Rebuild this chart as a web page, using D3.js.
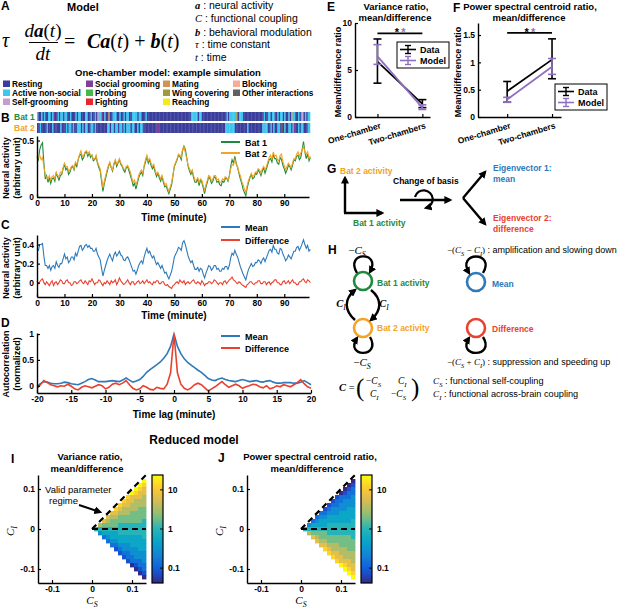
<!DOCTYPE html>
<html><head><meta charset="utf-8">
<script src="https://cdn.jsdelivr.net/npm/d3@7/dist/d3.min.js"></script>
<style>html,body{margin:0;padding:0;background:#fff}svg{display:block}</style>
</head><body>
<svg id="fig" width="617" height="609" xmlns="http://www.w3.org/2000/svg"></svg>
<script>
// ================= DATA =================
const behaviorNames = ["Resting","Active non-social","Self-grooming","Social grooming","Probing","Fighting","Mating","Wing covering","Reaching","Blocking","Other interactions"];
const behaviorCodes = ["R","A","S","G","P","F","M","W","Y","B","O"];
const behaviorColors = ["#3b3e9c","#3fc6ef","#c49cd6","#7d3f99","#48b74a","#e9272b","#cf9358","#9d9b3c","#f2ea1b","#f8ab98","#606060"];
// one character per half minute
const bat1Behavior =
 "ARRARARRAARAGRRARAAR"+"AARRARRRARAARRRAARRA"+"RRARSAAGRARRMRRAAARR"+"ARRARAARRAAAARAARRRA"+"RRRRRRRRRRRRRRRRRRRR"+
 "RRRRRRRRRRRRAAAAARAA"+"RRRRRRRRRRRRRRRRRRAR"+"AAAAAWRAAARRRRRRRRRR"+"RRRRRARRAARAAGRARAAR"+"ARRARAMARRARASRARAAB";
const bat2Behavior =
 "RRARRRRARRRARGRRRARR"+"RARAARARRAAARARAARRA"+"ARARRRRRRRRAARAARAAR"+"AARARAAARAARRARAAGRR"+"RRRRRRRGGRRRRRRRRRRR"+
 "RRRRRRRRRRRRRRRRRRRR"+"RRRRRRRRRRRRRRRRRAAA"+"AAAARRRRRRRRRARRRRRR"+"RRRRAAAARRARARRAAROR"+"ARRAARAGRRARAARRRAAR";

// simulated activity, sampled every half minute
const timeMinutes = d3.range(0, 100, 0.5);
const bat1Activity = [
 0.36,0.33,0.42,0.46,0.48,0.3,0.16,0.19,0.13,0.17,0.12,0.16,0.17,0.14,0.21,0.18,0.15,0.19,0.2,0.25,
 0.29,0.24,0.26,0.2,0.22,0.26,0.27,0.24,0.3,0.27,0.33,0.37,0.38,0.33,0.35,0.39,0.4,0.36,0.39,0.35,
 0.37,0.32,0.33,0.36,0.3,0.26,0.23,0.14,0.05,0.12,0.17,0.22,0.27,0.3,0.26,0.23,0.29,0.32,0.27,0.3,
 0.33,0.29,0.27,0.24,0.22,0.26,0.27,0.23,0.19,0.15,0.1,0.12,0.07,0.12,0.17,0.2,0.22,0.19,0.27,0.31,
 0.36,0.3,0.33,0.28,0.25,0.27,0.22,0.18,0.21,0.17,0.14,0.18,0.13,0.09,0.1,0.06,0.03,0.07,0.11,0.19,
 0.27,0.3,0.33,0.37,0.36,0.33,0.41,0.45,0.42,0.35,0.27,0.23,0.2,0.23,0.17,0.13,0.13,0.16,0.1,0.15,
 0.13,0.08,0.03,0.09,0.13,0.18,0.16,0.12,0.14,0.18,0.17,0.13,0.14,0.11,0.1,0.14,0.13,0.16,0.17,0.14,
 0.19,0.27,0.33,0.3,0.36,0.3,0.26,0.21,0.16,0.12,0.07,0.04,0.01,0.08,0.13,0.17,0.2,0.16,0.17,0.21,
 0.2,0.24,0.22,0.19,0.23,0.26,0.21,0.25,0.29,0.33,0.34,0.31,0.38,0.34,0.34,0.3,0.29,0.35,0.33,0.28,
 0.25,0.21,0.24,0.28,0.27,0.24,0.28,0.33,0.32,0.36,0.37,0.33,0.35,0.42,0.49,0.4,0.34,0.38,0.32,0.35];
const bat2Activity = [
 0.34,0.36,0.37,0.33,0.35,0.27,0.2,0.17,0.16,0.19,0.15,0.18,0.19,0.16,0.22,0.19,0.18,0.22,0.21,0.26,
 0.3,0.27,0.27,0.23,0.24,0.27,0.28,0.25,0.31,0.29,0.33,0.38,0.41,0.36,0.37,0.4,0.41,0.38,0.4,0.37,
 0.36,0.34,0.34,0.37,0.31,0.28,0.25,0.17,0.08,0.14,0.19,0.24,0.28,0.31,0.26,0.24,0.3,0.33,0.29,0.31,
 0.34,0.3,0.28,0.25,0.24,0.27,0.28,0.25,0.22,0.17,0.13,0.15,0.11,0.14,0.19,0.22,0.24,0.21,0.28,0.33,
 0.37,0.32,0.34,0.3,0.27,0.29,0.24,0.2,0.22,0.19,0.16,0.19,0.15,0.11,0.12,0.08,0.05,0.09,0.13,0.2,
 0.28,0.31,0.34,0.38,0.37,0.35,0.43,0.44,0.39,0.34,0.28,0.25,0.22,0.24,0.19,0.15,0.15,0.17,0.13,0.16,
 0.15,0.1,0.06,0.11,0.15,0.19,0.18,0.14,0.16,0.19,0.19,0.15,0.16,0.13,0.13,0.16,0.15,0.18,0.17,0.15,
 0.18,0.25,0.29,0.28,0.33,0.29,0.27,0.22,0.19,0.14,0.11,0.07,0.04,0.1,0.15,0.18,0.21,0.18,0.19,0.22,
 0.22,0.25,0.24,0.21,0.25,0.27,0.24,0.27,0.31,0.35,0.37,0.33,0.4,0.36,0.37,0.33,0.32,0.37,0.38,0.31,
 0.28,0.24,0.27,0.3,0.28,0.26,0.3,0.34,0.34,0.38,0.4,0.36,0.39,0.41,0.45,0.4,0.38,0.4,0.34,0.36];
const meanActivity = [
 0.35,0.34,0.4,0.4,0.41,0.28,0.18,0.18,0.15,0.18,0.13,0.17,0.18,0.15,0.22,0.18,0.16,0.2,0.2,0.25,
 0.3,0.25,0.27,0.21,0.23,0.27,0.27,0.24,0.31,0.28,0.33,0.38,0.39,0.34,0.36,0.39,0.4,0.37,0.39,0.36,
 0.36,0.33,0.33,0.36,0.3,0.27,0.24,0.15,0.07,0.13,0.18,0.23,0.27,0.3,0.26,0.23,0.29,0.32,0.28,0.3,
 0.33,0.29,0.28,0.24,0.23,0.26,0.27,0.24,0.2,0.16,0.12,0.13,0.09,0.13,0.18,0.21,0.23,0.2,0.27,0.32,
 0.36,0.31,0.33,0.29,0.26,0.28,0.23,0.19,0.21,0.18,0.15,0.18,0.14,0.1,0.11,0.07,0.04,0.08,0.12,0.19,
 0.27,0.3,0.33,0.37,0.36,0.34,0.42,0.44,0.4,0.34,0.28,0.24,0.21,0.23,0.18,0.14,0.14,0.16,0.12,0.15,
 0.14,0.09,0.05,0.1,0.14,0.18,0.17,0.13,0.15,0.18,0.18,0.14,0.15,0.12,0.12,0.15,0.14,0.17,0.17,0.14,
 0.18,0.26,0.31,0.29,0.34,0.3,0.27,0.22,0.17,0.13,0.09,0.06,0.03,0.09,0.14,0.17,0.2,0.17,0.18,0.21,
 0.21,0.24,0.23,0.2,0.24,0.26,0.22,0.26,0.3,0.34,0.35,0.32,0.39,0.35,0.35,0.31,0.3,0.36,0.35,0.3,
 0.27,0.23,0.25,0.29,0.27,0.25,0.29,0.33,0.33,0.37,0.38,0.34,0.37,0.41,0.45,0.4,0.36,0.39,0.33,0.35];
const diffActivity = [
 0.02,-0.01,0.01,0.03,0.04,0.0,-0.02,0.01,-0.01,-0.03,0.0,0.02,-0.03,0.0,0.01,-0.02,0.0,0.03,0.02,-0.01,
 -0.01,0.02,0.03,0.0,0.0,-0.03,-0.02,0.01,0.01,-0.01,0.0,0.02,0.03,0.0,-0.01,0.02,0.0,-0.02,0.02,0.01,
 0.04,0.01,-0.02,0.0,0.0,0.03,0.02,-0.01,-0.03,0.0,-0.01,0.02,0.0,-0.02,0.02,0.0,0.01,0.03,-0.02,0.01,
 0.05,0.02,0.0,-0.02,-0.01,0.01,0.03,0.0,-0.02,0.01,0.01,-0.02,-0.01,0.01,0.02,-0.01,0.0,0.02,-0.01,0.01,
 0.03,0.0,0.01,-0.01,-0.02,0.01,0.0,0.02,0.02,-0.01,-0.01,0.01,0.01,-0.02,-0.03,-0.02,-0.04,-0.05,-0.06,-0.03,
 -0.02,0.0,0.01,-0.01,0.03,0.01,0.0,0.02,-0.02,0.0,0.01,-0.01,0.0,0.02,0.03,0.0,-0.01,0.01,0.0,-0.02,
 0.02,0.0,-0.03,-0.01,-0.01,0.01,0.01,-0.01,0.0,0.03,0.02,0.0,-0.02,0.0,0.0,-0.02,0.01,0.02,-0.01,0.01,
 0.03,0.04,0.06,0.03,0.02,0.0,-0.01,0.01,0.0,-0.02,-0.03,-0.04,-0.05,-0.02,-0.01,0.01,0.01,-0.01,-0.02,0.0,
 0.0,0.02,0.02,-0.01,-0.01,0.01,0.01,-0.02,0.0,0.01,-0.02,0.0,0.01,0.03,0.03,0.0,0.0,-0.02,-0.02,0.01,
 0.02,-0.01,0.0,0.02,-0.01,0.01,0.03,0.0,0.0,-0.02,-0.02,0.01,0.01,0.03,0.04,0.01,0.0,0.03,0.02,0.0];

const lagMinutes = d3.range(-20, 20.001, 0.5);
const acfMean = [
 -0.01,0.04,0.08,0.07,0.05,0.04,0.04,0.05,0.07,0.06,0.04,0.03,0.02,0.05,0.08,0.12,0.14,0.11,0.08,0.08,
 0.08,0.09,0.1,0.09,0.08,0.11,0.15,0.11,0.07,0.09,0.12,0.18,0.26,0.31,0.36,0.41,0.46,0.53,0.62,0.76,
 1.0,
 0.76,0.62,0.52,0.45,0.4,0.35,0.3,0.26,0.2,0.14,0.11,0.1,0.13,0.15,0.12,0.1,0.09,0.08,0.1,0.12,
 0.1,0.08,0.09,0.1,0.08,0.07,0.09,0.1,0.07,0.05,0.05,0.06,0.06,0.06,0.05,0.05,0.07,0.1,0.06,0.02];
const acfDiff = [
 -0.05,0.02,0.1,0.06,0.02,0.0,-0.02,0.0,-0.01,0.03,-0.01,-0.06,-0.08,-0.03,0.0,-0.02,-0.04,-0.01,0.02,0.0,
 -0.06,-0.03,0.03,0.05,0.02,0.05,0.1,0.02,-0.05,-0.08,-0.06,0.0,-0.03,-0.07,-0.08,-0.03,-0.05,-0.06,0.03,0.25,
 1.0,
 0.25,0.03,-0.05,-0.08,-0.04,0.02,0.05,0.02,-0.04,-0.1,-0.06,-0.02,0.03,0.08,0.02,-0.03,0.0,0.03,0.0,-0.05,
 -0.02,0.0,0.03,0.02,-0.02,-0.04,0.0,-0.06,-0.04,0.0,-0.02,0.02,0.0,-0.02,0.02,0.06,0.12,0.04,-0.02,-0.05];

const chamberCategories = ["One-chamber","Two-chambers"];
const varDataMean = [5.9, 1.4], varDataLow = [3.6, 1.0], varDataHigh = [8.3, 1.85];
const varModelMean = [6.45, 1.0], varModelLow = [5.6, 0.8], varModelHigh = [7.7, 1.3];
const pscDataMean = [0.47, 1.05], pscDataLow = [0.27, 0.70], pscDataHigh = [0.65, 1.43];
const pscModelMean = [0.32, 0.92], pscModelLow = [0.27, 0.78], pscModelHigh = [0.36, 1.07];

// reduced model grids: columns = C_S, rows = C_I ; char = colour level 0..10 ('A'=10), '.' = invalid
const csValues = [0.01,0.02,0.03,0.04,0.05,0.06,0.07,0.08,0.09,0.10,0.11,0.12,0.13];
const ciValues = [0.12,0.11,0.10,0.09,0.08,0.07,0.06,0.05,0.04,0.03,0.02,0.01,0,-0.01,-0.02,-0.03,-0.04,-0.05,-0.06,-0.07,-0.08,-0.09,-0.10,-0.11,-0.12];
const varianceRatioLevels = [
 "............A","...........A9","..........A98",".........A988","........98887",".......988777",
 "......9887777",".....98777766","....887776666","...8776666666","..87666666665",".766665555555",
 "5555555555555",
 ".344445555555","..23444444445","...2334444444","....223334444",".....12333344","......1223333",
 ".......122333","........12223",".........0122","..........012","...........01","............0"];
const centroidRatioLevels = [
 "............0","...........01","..........012",".........0122","........12223",".......122333",
 "......1223333",".....12333344","....223334444","...2334444444","..23444444445",".344445555555",
 "5555555555555",
 ".766665555555","..87666666665","...8776666666","....887776666",".....98777766","......9887777",
 ".......988777","........98887",".........A988","..........A98","...........A9","............A"];
const colorbarTicks = [0.1, 1, 10];
const colorbarLogRange = [-1.38, 1.38];

// ================= DRAWING =================
const SANS = "'Liberation Sans', Arial, sans-serif";
const SERIF = "'Liberation Serif', 'Times New Roman', serif";
const GREEN = "#1f8a3d", ORANGE = "#f3a326", BLUE = "#2e79ba", RED = "#e8412f", PURPLE = "#8f70c0";
const svg = d3.select("#fig");
svg.append("rect").attr("width", 617).attr("height", 609).attr("fill", "#fff");
const defs = svg.append("defs");
defs.append("marker").attr("id", "ah").attr("viewBox", "0 0 10 10").attr("refX", 7).attr("refY", 5)
  .attr("markerWidth", 8).attr("markerHeight", 8).attr("markerUnits", "userSpaceOnUse").attr("orient", "auto")
  .append("path").attr("d", "M0,0 L10,5 L0,10 z").attr("fill", "#000");

function T(x, y, s, o = {}) {
  const t = svg.append("text").attr("x", x).attr("y", y).text(s)
    .attr("font-family", o.ff || SANS).attr("font-size", o.fs || 9)
    .attr("font-weight", o.fw || "bold").attr("fill", o.c || "#000")
    .attr("text-anchor", o.a || "start");
  if (o.rot) t.attr("transform", `rotate(${o.rot},${x},${y})`);
  if (o.it) t.attr("font-style", "italic");
  return t;
}
// math text: parts [string, flags] flags: I italic, B bold, _ subscript, N sans
function M(x, y, parts, fs, o = {}) {
  const t = svg.append("text").attr("x", x).attr("y", y).attr("font-size", fs)
    .attr("text-anchor", o.a || "start").attr("fill", o.c || "#000");
  let shift = 0;
  parts.forEach(([s, f]) => {
    const sp = t.append("tspan").text(s);
    const target = f.includes("_") ? fs * 0.28 : 0;
    if (target - shift !== 0) sp.attr("dy", target - shift);
    shift = target;
    sp.attr("font-family", f.includes("N") ? SANS : SERIF);
    sp.attr("font-style", f.includes("I") ? "italic" : "normal");
    sp.attr("font-weight", f.includes("B") ? "bold" : "normal");
    if (f.includes("_")) sp.attr("font-size", fs * 0.72);
  });
  return t;
}
function axis(kind, scale, pos, ticks, fmt) {
  const ax = (kind === "left" ? d3.axisLeft(scale) : d3.axisBottom(scale))
    .tickValues(ticks).tickSizeInner(-3).tickSizeOuter(0).tickPadding(3)
    .tickFormat(fmt || (d => String(d)));
  const g = svg.append("g").attr("transform", kind === "left" ? `translate(${pos},0)` : `translate(0,${pos})`).call(ax);
  g.select(".domain").attr("stroke", "#000").attr("stroke-width", 1.4);
  g.selectAll(".tick line").attr("stroke", "#000").attr("stroke-width", 1.2);
  g.selectAll(".tick text").attr("font-family", SANS).attr("font-size", 8.5).attr("font-weight", "bold").attr("fill", "#000");
  return g;
}
function letter(x, y, s) { T(x, y, s, { fs: 12, fw: "bold" }); }

// ---------- Panel A ----------
letter(1, 10, "A");
T(67, 11, "Model", { fs: 11 });
M(2, 47, [["τ", "I"]], 20);
M(43, 37, [["d", "I"], ["a", "IB"], ["(", ""], ["t", "I"], [")", ""]], 19, { a: "middle" });
svg.append("line").attr("x1", 29).attr("x2", 58).attr("y1", 42.5).attr("y2", 42.5).attr("stroke", "#000").attr("stroke-width", 1);
M(43, 60, [["d", "I"], ["t", "I"]], 19, { a: "middle" });
M(64, 48, [["=", ""]], 20);
M(87, 48, [["C", "IB"], ["a", "IB"], ["(", ""], ["t", "I"], [")", ""], [" + ", ""], ["b", "IB"], ["(", ""], ["t", "I"], [")", ""]], 20);
const defsList = [[["a", "IB"], " : neural activity", 9], [["C", "I"], " : functional coupling", 22],
  [["b", "IB"], " : behavioral modulation", 36], [["τ", "I"], " : time constant", 48], [["t", "I"], " : time", 61]];
defsList.forEach(([sym, s, y]) => M(195, y, [sym, [s, "N"]], 10.5));

T(168, 76, "One-chamber model: example simulation", { fs: 9.5, a: "middle" });
const legCols = [3, 86, 163, 233];
const legRows = [84, 93, 102];
const legendLayout = [[0, 0, 0], [1, 0, 1], [2, 0, 2], [3, 1, 0], [4, 1, 1], [5, 1, 2], [6, 2, 0], [7, 2, 1], [8, 2, 2], [9, 3, 0], [10, 3, 1]];
legendLayout.forEach(([k, c, r]) => {
  svg.append("rect").attr("x", legCols[c]).attr("y", legRows[r] - 3.5).attr("width", 7).attr("height", 6.5).attr("fill", behaviorColors[k]);
  T(legCols[c] + 9, legRows[r] + 3, behaviorNames[k], { fs: 8.3 });
});

// ---------- Panel B ----------
letter(1, 122, "B");
const xB = d3.scaleLinear([0, 99], [37, 309]);
const codeIndex = c => behaviorCodes.indexOf(c);
[[bat1Behavior, 112, 121], [bat2Behavior, 123, 133]].forEach(([str, y0, y1]) => {
  svg.append("g").selectAll("rect").data(str.split("")).join("rect")
    .attr("x", (d, i) => xB(i * 0.5)).attr("width", (d, i) => Math.min(xB((i + 1) * 0.5), 310) - xB(i * 0.5) + 0.3)
    .attr("y", y0).attr("height", y1 - y0).attr("fill", d => behaviorColors[codeIndex(d)]);
});
T(14, 120, "Bat 1", { fs: 8.5, c: GREEN });
T(14, 131, "Bat 2", { fs: 8.5, c: ORANGE });

const yB = d3.scaleLinear([0, 0.54], [197, 136]);
const lineB = ys => d3.line().x((d, i) => xB(timeMinutes[i])).y(d => ys(d));
svg.append("path").datum(bat1Activity).attr("d", lineB(yB)).attr("fill", "none").attr("stroke", GREEN).attr("stroke-width", 1.1);
svg.append("path").datum(bat2Activity).attr("d", lineB(yB)).attr("fill", "none").attr("stroke", ORANGE).attr("stroke-width", 1.1);
axis("left", yB, 37, [0, 0.5]);
axis("bottom", xB, 197, d3.range(0, 91, 10));
T(174, 221, "Time (minute)", { fs: 10, a: "middle" });
T(9, 168, "Neural activity", { fs: 9, a: "middle", rot: -90 });
T(20, 168, "(arbitrary unit)", { fs: 9, a: "middle", rot: -90 });
[[GREEN, "Bat 1", 142], [ORANGE, "Bat 2", 153]].forEach(([c, s, y]) => {
  svg.append("line").attr("x1", 221).attr("x2", 240).attr("y1", y).attr("y2", y).attr("stroke", c).attr("stroke-width", 2);
  T(245, y + 3.5, s, { fs: 9 });
});

// ---------- Panel C ----------
letter(1, 229, "C");
const yC = d3.scaleLinear([-0.15, 0.5], [297, 235]);
svg.append("path").datum(meanActivity).attr("d", lineB(yC)).attr("fill", "none").attr("stroke", BLUE).attr("stroke-width", 1.1);
svg.append("path").datum(diffActivity).attr("d", lineB(yC)).attr("fill", "none").attr("stroke", RED).attr("stroke-width", 1.1);
axis("left", yC, 37, [0, 0.2, 0.4]);
axis("bottom", xB, 297, d3.range(0, 91, 10));
T(174, 319, "Time (minute)", { fs: 10, a: "middle" });
T(9, 268, "Neural activity", { fs: 9, a: "middle", rot: -90 });
T(20, 268, "(arbitrary unit)", { fs: 9, a: "middle", rot: -90 });
[[BLUE, "Mean", 227], [RED, "Difference", 240]].forEach(([c, s, y]) => {
  svg.append("line").attr("x1", 221).attr("x2", 240).attr("y1", y).attr("y2", y).attr("stroke", c).attr("stroke-width", 2);
  T(245, y + 3.5, s, { fs: 9 });
});

// ---------- Panel D ----------
letter(1, 327, "D");
const xD = d3.scaleLinear([-20, 20], [37, 311]);
const yD = d3.scaleLinear([-0.14, 1.02], [393, 333]);
const lineD = d3.line().x((d, i) => xD(lagMinutes[i])).y(d => yD(d));
svg.append("path").datum(acfMean).attr("d", lineD).attr("fill", "none").attr("stroke", BLUE).attr("stroke-width", 1.6);
svg.append("path").datum(acfDiff).attr("d", lineD).attr("fill", "none").attr("stroke", RED).attr("stroke-width", 1.6);
axis("left", yD, 37, [0, 0.5, 1]);
axis("bottom", xD, 393, d3.range(-20, 21, 5));
T(174, 418, "Time lag (minute)", { fs: 10, a: "middle" });
T(9, 364, "Autocorrelation", { fs: 9, a: "middle", rot: -90 });
T(20, 364, "(normalized)", { fs: 9, a: "middle", rot: -90 });
[[BLUE, "Mean", 336], [RED, "Difference", 348]].forEach(([c, s, y]) => {
  svg.append("line").attr("x1", 221).attr("x2", 240).attr("y1", y).attr("y2", y).attr("stroke", c).attr("stroke-width", 2);
  T(245, y + 3.5, s, { fs: 9 });
});

// ---------- Panels E / F ----------
function ratioPanel(cfg) {
  const { xs, ys, ticks, dataM, dataL, dataH, modM, modL, modH, sigY, title1, title1x, titlex, legX, legY, ylabX, ylabY } = cfg;
  [[dataM, dataL, dataH, "#000"], [modM, modL, modH, PURPLE]].forEach(([m, lo, hi, c]) => {
    svg.append("path").datum(m).attr("d", d3.line().x((d, i) => xs(i + 1)).y(d => ys(d)))
      .attr("fill", "none").attr("stroke", c).attr("stroke-width", 1.8);
    m.forEach((v, i) => {
      const x = xs(i + 1);
      svg.append("line").attr("x1", x).attr("x2", x).attr("y1", ys(lo[i])).attr("y2", ys(hi[i])).attr("stroke", c).attr("stroke-width", 1.6);
      [lo[i], hi[i]].forEach(w => svg.append("line").attr("x1", x - 4).attr("x2", x + 4).attr("y1", ys(w)).attr("y2", ys(w)).attr("stroke", c).attr("stroke-width", 1.6));
    });
  });
  axis("left", ys, xs.range()[0], ticks);
  axis("bottom", xs, ys.range()[0], [1, 2], () => "");
  chamberCategories.forEach((s, i) => T(xs(i + 1) + 4, ys.range()[0] + 11, s, { fs: 8.5, a: "end", rot: -17 }));
  svg.append("line").attr("x1", xs(1)).attr("x2", xs(2)).attr("y1", ys(sigY)).attr("y2", ys(sigY)).attr("stroke", "#000").attr("stroke-width", 1.8);
  const mid = (xs(1) + xs(2)) / 2;
  T(mid - 3, ys(sigY) + 3, "*", { fs: 11, a: "middle" });
  T(mid + 3.5, ys(sigY) + 3, "*", { fs: 11, a: "middle", c: PURPLE });
  T(title1x, 10, title1, { fs: 9.5, a: "middle" });
  T(titlex, 21, "mean/difference", { fs: 9.5, a: "middle" });
  T(ylabX, ylabY, "Mean/difference ratio", { fs: 9, a: "middle", rot: -90 });
  svg.append("rect").attr("x", legX).attr("y", legY).attr("width", 52).attr("height", 26).attr("fill", "#fff").attr("stroke", "#000").attr("stroke-width", 1);
  [["#000", "Data", legY + 7.5], [PURPLE, "Model", legY + 18.5]].forEach(([c, s, y]) => {
    svg.append("line").attr("x1", legX + 3).attr("x2", legX + 19).attr("y1", y).attr("y2", y).attr("stroke", c).attr("stroke-width", 1.6);
    svg.append("line").attr("x1", legX + 11).attr("x2", legX + 11).attr("y1", y - 4).attr("y2", y + 4).attr("stroke", c).attr("stroke-width", 1.4);
    [y - 4, y + 4].forEach(w => svg.append("line").attr("x1", legX + 8).attr("x2", legX + 14).attr("y1", w).attr("y2", w).attr("stroke", c).attr("stroke-width", 1.4));
    T(legX + 23, y + 3.5, s, { fs: 9 });
  });
}
letter(327, 11, "E");
ratioPanel({ xs: d3.scaleLinear([0.5, 2.17], [355, 430]), ys: d3.scaleLinear([0, 10], [117, 23]), ticks: [0, 5, 10],
  dataM: varDataMean, dataL: varDataLow, dataH: varDataHigh, modM: varModelMean, modL: varModelLow, modH: varModelHigh,
  sigY: 8.9, title1: "Variance ratio,", title1x: 396, titlex: 395, legX: 397, legY: 42, ylabX: 341, ylabY: 72 });
letter(453, 12, "F");
ratioPanel({ xs: d3.scaleLinear([0.35, 2.2], [478, 561]), ys: d3.scaleLinear([0, 1.72], [117, 23]), ticks: [0, 0.5, 1, 1.5],
  dataM: pscDataMean, dataL: pscDataLow, dataH: pscDataHigh, modM: pscModelMean, modL: pscModelLow, modH: pscModelHigh,
  sigY: 1.54, title1: "Power spectral centroid ratio,", title1x: 530, titlex: 529, legX: 555, legY: 84, ylabX: 461, ylabY: 72 });

// ---------- Panel G ----------
letter(327, 173, "G");
T(340, 174, "Bat 2 activity", { fs: 8.5, c: ORANGE });
T(353, 226, "Bat 1 activity", { fs: 8.5, c: GREEN });
const arrow = (d, w = 2.4) => svg.append("path").attr("d", d).attr("fill", "none").attr("stroke", "#000").attr("stroke-width", w).attr("marker-end", "url(#ah)");
arrow("M345,213 L345,178");
arrow("M344,213 L382,213");
T(393, 184, "Change of basis", { fs: 8.5 });
arrow("M400,200 L450,200");
arrow("M415,197 A9,9 0 1 1 426,208", 2.2);
arrow("M463,198 L485,172");
arrow("M463,198 L485,224");
T(493, 171, "Eigenvector 1:", { fs: 8.5, c: BLUE });
T(493, 182, "mean", { fs: 8.5, c: BLUE });
T(493, 221, "Eigenvector 2:", { fs: 8.5, c: RED });
T(493, 232, "difference", { fs: 8.5, c: RED });

// ---------- Panel H ----------
letter(328, 254, "H");
M(357, 254, [["−", ""], ["C", "I"], ["S", "I_"]], 11, { a: "middle" });
M(362, 366, [["−", ""], ["C", "I"], ["S", "I_"]], 11, { a: "middle" });
M(341, 307, [["C", "IB"], ["I", "I_"]], 10.5, { a: "middle" });
M(384, 307, [["C", "IB"], ["I", "I_"]], 10.5, { a: "middle" });
[[363, 281, GREEN], [363, 328, ORANGE], [476, 282, BLUE], [476, 328, RED]].forEach(([cx, cy, c]) =>
  svg.append("circle").attr("cx", cx).attr("cy", cy).attr("r", 9).attr("fill", "#fff").attr("stroke", c).attr("stroke-width", 2.6));
arrow("M357,273 C344,251 382,251 370,272");
arrow("M370,337 C382,358 344,358 357,338");
arrow("M355,320 C344,310 344,299 355,290");
arrow("M371,290 C382,299 382,310 371,320");
arrow("M483,273 C496,251 456,251 469,273");
arrow("M483,337 C496,358 456,358 469,338");
T(377, 286, "Bat 1 activity", { fs: 8.5, c: GREEN });
T(377, 331, "Bat 2 activity", { fs: 8.5, c: ORANGE });
T(492, 287, "Mean", { fs: 8.5, c: BLUE });
T(492, 332, "Difference", { fs: 8.5, c: RED });
M(447, 253, [["−(", ""], ["C", "I"], ["S", "I_"], [" − ", ""], ["C", "I"], ["I", "I_"], [")", ""], [" : amplification and slowing down", "N"]], 9);
M(447, 365, [["−(", ""], ["C", "I"], ["S", "I_"], [" + ", ""], ["C", "I"], ["I", "I_"], [")", ""], [" : suppression and speeding up", "N"]], 9);
M(339, 391, [["C", "IB"], [" =", ""]], 10.5);
M(356, 396, [["(", ""]], 25);
M(411, 396, [[")", ""]], 25);
M(366, 384, [["−", ""], ["C", "I"], ["S", "I_"]], 9.5);
M(398, 384, [["C", "I"], ["I", "I_"]], 9.5);
M(370, 397, [["C", "I"], ["I", "I_"]], 9.5);
M(391, 397, [["−", ""], ["C", "I"], ["S", "I_"]], 9.5);
M(433, 384, [["C", "I"], ["S", "I_"], [" : functional self-coupling", "N"]], 9.2);
M(433, 397, [["C", "I"], ["I", "I_"], [" : functional across-brain coupling", "N"]], 9.2);

// ---------- Panels I / J ----------
T(194, 444, "Reduced model", { fs: 12, a: "middle" });
const parula = d3.piecewise(d3.interpolateRgb, ["#352a87", "#0f5cdd", "#1481d6", "#06a4ca", "#26b4b8", "#87bf77", "#d1bb59", "#fec832", "#f9fb0e"]);
const levelToLog = k => colorbarLogRange[0] + k * (colorbarLogRange[1] - colorbarLogRange[0]) / 10;
const logToT = v => (v - colorbarLogRange[0]) / (colorbarLogRange[1] - colorbarLogRange[0]);
function heatPanel(cfg) {
  const { x0, levels, cbX, titleA, titleX, lx } = cfg;
  const xs = d3.scaleLinear([-0.135, 0.135], [x0, x0 + 108]);
  const ys = d3.scaleLinear([-0.135, 0.135], [583, 475]);
  const cells = [];
  levels.forEach((row, r) => row.split("").forEach((ch, c) => {
    if (ch !== ".") cells.push({ cs: csValues[c], ci: ciValues[r], k: ch === "A" ? 10 : +ch });
  }));
  svg.append("g").selectAll("rect").data(cells).join("rect")
    .attr("x", d => xs(d.cs - 0.005)).attr("width", d => xs(d.cs + 0.005) - xs(d.cs - 0.005) + 0.4)
    .attr("y", d => ys(d.ci + 0.005)).attr("height", d => ys(d.ci - 0.005) - ys(d.ci + 0.005) + 0.4)
    .attr("fill", d => parula(logToT(levelToLog(d.k))));
  svg.append("line").attr("x1", xs(0)).attr("y1", ys(0)).attr("x2", xs(0.135)).attr("y2", ys(0.135))
    .attr("stroke", "#000").attr("stroke-width", 2.2).attr("stroke-dasharray", "6,4");
  svg.append("line").attr("x1", xs(0)).attr("y1", ys(0)).attr("x2", xs(0.135)).attr("y2", ys(0))
    .attr("stroke", "#000").attr("stroke-width", 2.2).attr("stroke-dasharray", "6,4");
  axis("left", ys, x0, [-0.1, 0, 0.1]);
  axis("bottom", xs, 583, [-0.1, 0, 0.1]);
  M(x0 + 54, 604, [["C", "I"], ["S", "I_"]], 11, { a: "middle" });
  const yl = M(lx, 531, [["C", "I"], ["I", "I_"]], 11, { a: "middle" });
  yl.attr("transform", `rotate(-90,${lx},531)`);
  T(titleX, 460, titleA, { fs: 9.5, a: "middle" });
  T(titleX - 3, 472, "mean/difference", { fs: 9.5, a: "middle" });
  // colorbar
  const cy = d3.scaleLinear(colorbarLogRange, [583, 475]);
  const gid = "grad" + cbX;
  const grad = defs.append("linearGradient").attr("id", gid).attr("x1", 0).attr("y1", 1).attr("x2", 0).attr("y2", 0);
  d3.range(0, 1.0001, 0.05).forEach(t => grad.append("stop").attr("offset", t).attr("stop-color", parula(t)));
  svg.append("rect").attr("x", cbX).attr("y", 475).attr("width", 11).attr("height", 108).attr("fill", `url(#${gid})`).attr("stroke", "#000").attr("stroke-width", 1.2);
  colorbarTicks.forEach(v => {
    const y = cy(Math.log10(v));
    svg.append("line").attr("x1", cbX + 8).attr("x2", cbX + 11).attr("y1", y).attr("y2", y).attr("stroke", "#000").attr("stroke-width", 1);
    T(cbX + 16, y + 3, String(v), { fs: 8.5 });
  });
}
letter(11, 463, "I");
heatPanel({ x0: 38, levels: varianceRatioLevels, cbX: 152, titleA: "Variance ratio,", titleX: 90, lx: 14 });
letter(218, 462, "J");
heatPanel({ x0: 247, levels: centroidRatioLevels, cbX: 361, titleA: "Power spectral centroid ratio,", titleX: 310, lx: 223 });
T(45, 493, "Valid parameter", { fs: 9.5, fw: "normal" });
T(49, 504, "regime", { fs: 9.5, fw: "normal" });
arrow("M79,505 L100,512", 2);
</script>
</body></html>
